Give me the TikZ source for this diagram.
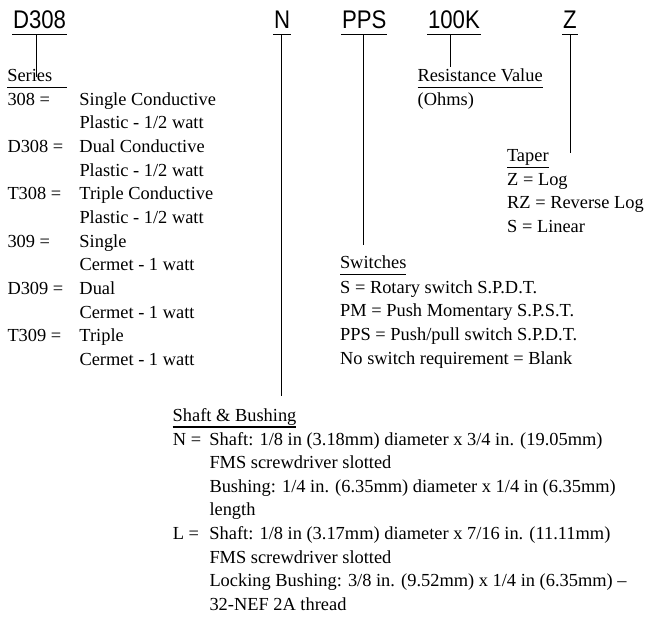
\documentclass[tikz,border=0pt]{standalone}
\usepackage{fontspec}
\setmainfont{Liberation Serif}
\newfontfamily\codefont[FakeStretch=0.87]{Liberation Sans}
\newcommand{\lcol}[1]{\makebox[72pt][l]{#1}}
\newcommand{\scol}[1]{\makebox[36.6pt][l]{#1}}
\begin{document}
\begin{tikzpicture}[x=1pt,y=-1pt,
  code/.style={font=\codefont\fontsize{25.5}{30}\selectfont, anchor=base west,
    inner xsep=1pt, inner ysep=6.3pt, text depth=0pt, outer sep=0pt},
  hdr/.style={font=\fontsize{18.4}{23.65}\selectfont, anchor=base west,
    inner xsep=0pt, inner ysep=6pt, text depth=0pt, outer sep=0pt},
  lst/.style={font=\fontsize{18.4}{23.65}\selectfont, anchor=base west,
    inner sep=0pt, align=left},
  rule/.style={line width=1.1pt}]
\useasboundingbox (0,0) rectangle (661,619);

% part-number codes
\node[code] (cD) at (12,28) {D308};
\node[code] (cN) at (273,28) {N};
\node[code] (cP) at (341,28) {PPS};
\node[code] (cR) at (427,28) {100K};
\node[code] (cZ) at (562,28) {Z};
\foreach \n in {cD,cN,cP,cR,cZ} \draw[rule] (\n.south west) -- (\n.south east);

% headers
\node[hdr] (hSeries) at (7.3,81.7) {Series};
\node[hdr] (hRes) at (417.5,81.7) {Resistance Value};
\node[hdr] (hTaper) at (507,161.7) {Taper};
\node[hdr] (hSw) at (340,268.3) {Switches};
\node[hdr] (hShaft) at (172.7,421) {Shaft \& Bushing};
\draw[rule] (hSeries.south west) -- (hSeries.south west -| cD.south east);
\draw[rule] (hRes.south west) -- (hRes.south east);
\draw[rule] (hTaper.south west) -- (hTaper.south east);
\draw[rule] (hSw.south west) -- (hSw.south east);
\draw[rule] (hShaft.south west) -- (hShaft.south east);

% connector ends
\coordinate (eD) at (36.7,77);
\coordinate (eN) at (281.5,396);
\coordinate (eP) at (363.3,245);
\coordinate (eR) at (450.7,67);
\coordinate (eZ) at (570.7,153);
\draw[rule] (cD.south -| eD) -- (eD);
\draw[rule] (cN.south -| eN) -- (eN);
\draw[rule] (cP.south -| eP) -- (eP);
\draw[rule] (cR.south -| eR) -- (eR);
\draw[rule] (cZ.south -| eZ) -- (eZ);

% lists (anchored at the baseline of their last line)
\node[lst] (lSeries) at (7.3,365.45) {\lcol{308 =}Single Conductive\\
  \hspace*{72pt}Plastic - 1/2 watt\\
  \lcol{D308 =}Dual Conductive\\
  \hspace*{72pt}Plastic - 1/2 watt\\
  \lcol{T308 =}Triple Conductive\\
  \hspace*{72pt}Plastic - 1/2 watt\\
  \lcol{309 =}Single\\
  \hspace*{72pt}Cermet - 1 watt\\
  \lcol{D309 =}Dual\\
  \hspace*{72pt}Cermet - 1 watt\\
  \lcol{T309 =}Triple\\
  \hspace*{72pt}Cermet - 1 watt};
\node[lst] (lOhms) at (417.5,105.3) {(Ohms)};
\node[lst] (lTaper) at (507,232.3) {Z = Log\\RZ = Reverse Log\\S = Linear};
\node[lst] (lSw) at (340,364.25) {S = Rotary switch S.P.D.T.\\
  PM = Push Momentary S.P.S.T.\\
  PPS = Push/pull switch S.P.D.T.\\
  No switch requirement = Blank};
\node[lst] (lShaft) at (172.7,610.55) {\scol{N =}Shaft: 1/8 in (3.18mm) diameter x 3/4 in. (19.05mm)\\
  \hspace*{36.6pt}FMS screwdriver slotted\\
  \hspace*{36.6pt}Bushing: 1/4 in. (6.35mm) diameter x 1/4 in (6.35mm)\\
  \hspace*{36.6pt}length\\
  \scol{L =}Shaft: 1/8 in (3.17mm) diameter x 7/16 in. (11.11mm)\\
  \hspace*{36.6pt}FMS screwdriver slotted\\
  \hspace*{36.6pt}Locking Bushing: 3/8 in. (9.52mm) x 1/4 in (6.35mm) --\\
  \hspace*{36.6pt}32-NEF 2A thread};
\end{tikzpicture}
\end{document}
